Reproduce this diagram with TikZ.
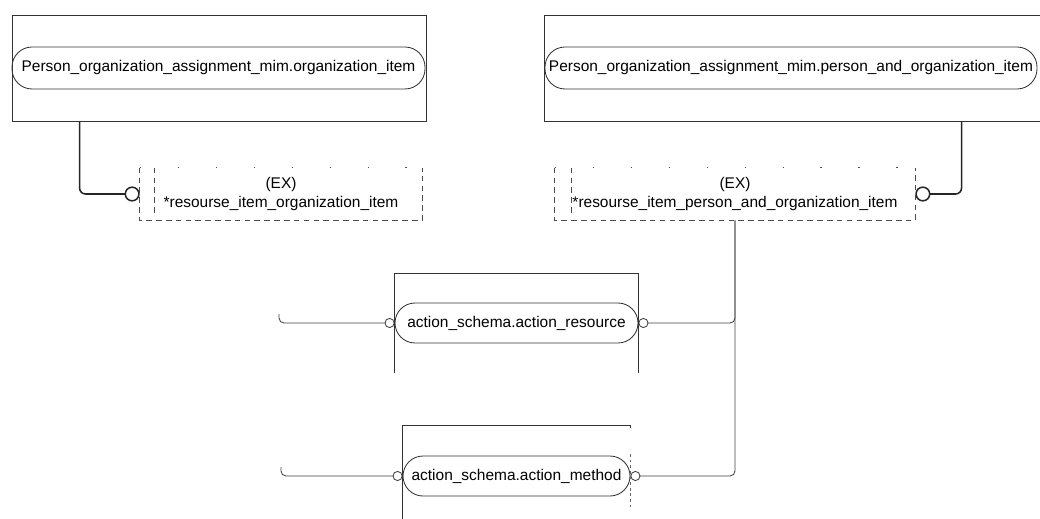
\documentclass[tikz,border=0pt]{standalone}
\usepackage{fontspec}
\setmainfont{Liberation Sans}
\usetikzlibrary{arrows.meta,calc}
\def\px{0.025cm}

\begin{document}
\begin{tikzpicture}[x=0.025cm,y=-0.025cm,
    every node/.style={font=\fontsize{11}{13}\selectfont, inner sep=0pt},
    frame/.style={draw=black!80, line width=0.6pt},
    attr/.style={draw=black!80, line width=0.6pt, rounded corners=0.5cm},
    exbox/.style={align=center},
    link/.style={draw=black!85, line width=1.1pt, rounded corners=6*\px, -{Circle[open,length=3.8mm,width=3.8mm]}},
    thinlink/.style={draw=black!75, line width=0.6pt, rounded corners=5*\px, -{Circle[open,length=2.5mm,width=2.5mm]}},
    sparse/.style={draw=black!70, line width=0.6pt, dash pattern=on 1pt off 26pt},
    dashedge/.style={draw=black!70, line width=0.6pt, dash pattern=on 4pt off 3pt}]
    \useasboundingbox (0,0) rectangle (1040,519);
    %%%%% START %%%%%

    % top left entity
    \node[frame, minimum width=414*\px, minimum height=106*\px] (orgbox) at (219,68) {};
    \node[attr, minimum width=413*\px, minimum height=42*\px] (orgitem) at (218.5,68) {Person\_organization\_assignment\_mim.organization\_item};

    % top right entity
    \node[frame, minimum width=502*\px, minimum height=106*\px] (pobox) at (795,68) {};
    \node[attr, minimum width=492*\px, minimum height=42*\px] (poitem) at (791,68) {Person\_organization\_assignment\_mim.person\_and\_organization\_item};

    % extensions
    \node[exbox, minimum width=282*\px, minimum height=52*\px] (exorg) at (281,194) {(EX)\\*resourse\_item\_organization\_item};
    \draw[sparse] (exorg.north west) -- (exorg.north east);
    \draw[dashedge] (exorg.north west) -- (exorg.south west) -- (exorg.south east) -- (exorg.north east);
    \draw[dashedge] ($(exorg.north west)+(15,0)$) -- ($(exorg.south west)+(15,-5)$);

    \node[exbox, minimum width=360*\px, minimum height=52*\px] (expo) at (735,194) {(EX)\\*resourse\_item\_person\_and\_organization\_item};
    \draw[sparse] (expo.north west) -- (expo.north east);
    \draw[dashedge] (expo.north west) -- (expo.south west) -- (expo.south east) -- (expo.north east);
    \draw[dashedge] ($(expo.north west)+(17,0)$) -- ($(expo.south west)+(17,-5)$);

    \draw[link] ($(orgbox.south west)+(68,0)$) |- (exorg.west);
    \draw[link] ($(pobox.south west)+(418,0)$) |- (expo.east);

    % action schema
    \node[attr, minimum width=243*\px, minimum height=40*\px] (res) at (516.5,323) {action\_schema.action\_resource};
    \draw[frame] ($(res.west)+(0,50)$) -- ($(res.west)+(0,-50)$) -| ($(res.east)+(0,50)$);

    \node[attr, minimum width=227*\px, minimum height=40*\px] (met) at (516.5,476) {action\_schema.action\_method};
    \draw[frame] ($(met.west)+(0,43)$) -- ($(met.west)+(0,-51)$) -- ($(met.east)+(0,-51)$) -- ++(0,3);
    \draw[draw=black!60, line width=0.5pt, dash pattern=on 2pt off 2pt] ($(met.east)+(0,-22)$) -- ($(met.east)+(0,34)$);

    \draw[thinlink] (expo.south) |- (res.east);
    \draw[thinlink] (expo.south) |- (met.east);

    \coordinate (resin) at (279,314);
    \coordinate (metin) at (281,467);
    \draw[thinlink] (resin) |- (res.west);
    \draw[thinlink] (metin) |- (met.west);

    %%%%% END %%%%%
\end{tikzpicture}
\end{document}
